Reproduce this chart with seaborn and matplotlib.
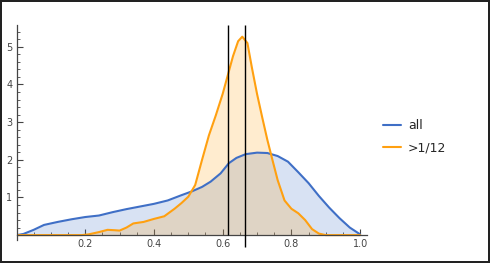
import matplotlib
matplotlib.use("Agg")
import matplotlib.pyplot as plt
import seaborn as sns
import pandas as pd
from matplotlib.ticker import MultipleLocator

sns.set_style("white")
plt.rcParams['font.family'] = ['DejaVu Sans']

# ---- data ----
all_x = [0, 0.02, 0.05, 0.08, 0.12, 0.16, 0.20, 0.24, 0.28, 0.32, 0.36, 0.40,
         0.44, 0.48, 0.51, 0.54, 0.565, 0.594, 0.618, 0.64, 0.667, 0.70, 0.73,
         0.76, 0.79, 0.82, 0.85, 0.88, 0.91, 0.94, 0.97, 1.0]
all_y = [0, 0.03, 0.14, 0.27, 0.35, 0.42, 0.48, 0.52, 0.61, 0.69, 0.76, 0.83,
         0.92, 1.06, 1.16, 1.28, 1.42, 1.64, 1.91, 2.05, 2.15, 2.19, 2.18,
         2.10, 1.95, 1.67, 1.38, 1.04, 0.73, 0.45, 0.20, 0.02]

sel_x = [0, 0.19, 0.21, 0.24, 0.265, 0.285, 0.30, 0.32, 0.34, 0.37, 0.40, 0.43,
         0.46, 0.48, 0.50, 0.52, 0.54, 0.56, 0.58, 0.60, 0.615, 0.63, 0.645,
         0.657, 0.672, 0.685, 0.70, 0.715, 0.73, 0.745, 0.76, 0.78, 0.80, 0.82,
         0.84, 0.86, 0.88, 0.90, 1.0]
sel_y = [0, 0, 0.02, 0.08, 0.14, 0.13, 0.12, 0.20, 0.31, 0.35, 0.43, 0.50,
         0.70, 0.85, 1.02, 1.33, 2.00, 2.65, 3.18, 3.75, 4.25, 4.75, 5.15,
         5.27, 5.10, 4.45, 3.75, 3.13, 2.53, 1.99, 1.46, 0.92, 0.70, 0.58,
         0.40, 0.16, 0.04, 0.0, 0.0]

series_names = ["all", ">1/12"]
vline_x = [0.615, 0.664]
vline_bottom = [0.0, -0.32]

blue = "#3f6fc6"
orange = "#ffa010"

df = pd.concat([
    pd.DataFrame({"x": all_x, "y": all_y, "s": series_names[0]}),
    pd.DataFrame({"x": sel_x, "y": sel_y, "s": series_names[1]}),
])

fig = plt.figure(figsize=(4.9, 2.63), dpi=100)
fig.patch.set_edgecolor("#222222")
fig.patch.set_linewidth(1.5)
ax = fig.add_axes([16.5 / 490, 1 - 240 / 263, (367 - 16.5) / 490, (240 - 25) / 263])

palette = {series_names[0]: blue, series_names[1]: orange}
sns.lineplot(data=df, x="x", y="y", hue="s", palette=palette, ax=ax,
             linewidth=1.5, sort=False, estimator=None)
ax.fill_between(all_x, all_y, 0, color=blue, alpha=0.2, linewidth=0)
ax.fill_between(sel_x, sel_y, 0, color=orange, alpha=0.2, linewidth=0)

for vx, vb in zip(vline_x, vline_bottom):
    ax.vlines(vx, vb, 5.58, color="black", linewidth=1.0, clip_on=False, zorder=5)

ax.set_xlim(0, 1.02)
ax.set_ylim(-0.13, 5.58)

for s in ["top", "right"]:
    ax.spines[s].set_visible(False)
ax.spines["bottom"].set_position(("data", 0))
ax.spines["left"].set_position(("data", 0))
for s in ["bottom", "left"]:
    ax.spines[s].set_color("#444444")
    ax.spines[s].set_linewidth(0.9)

ax.xaxis.set_major_locator(MultipleLocator(0.2))
ax.xaxis.set_minor_locator(MultipleLocator(0.05))
ax.yaxis.set_major_locator(MultipleLocator(1))
ax.yaxis.set_minor_locator(MultipleLocator(0.2))
ax.set_xticks([0.2, 0.4, 0.6, 0.8, 1.0])
ax.set_xticklabels(["0.2", "0.4", "0.6", "0.8", "1.0"])
ax.set_yticks([1, 2, 3, 4, 5])
ax.tick_params(axis="both", which="major", direction="in", length=4, width=0.8,
               color="#444444", labelsize=7, labelcolor="#444444", pad=3)
ax.tick_params(axis="both", which="minor", direction="in", length=2.2, width=0.6,
               color="#444444")
ax.tick_params(axis="x", which="both", bottom=True)
ax.tick_params(axis="y", which="both", left=True)
ax.set_xlabel("")
ax.set_ylabel("")

ax.get_legend().remove()
handles = [plt.Line2D([], [], color=blue, lw=1.5), plt.Line2D([], [], color=orange, lw=1.5)]
fig.legend(handles, series_names, loc="center left", bbox_to_anchor=(383 / 490, 1 - 137 / 263),
           frameon=False, fontsize=9, handlelength=1.45, handletextpad=0.55,
           labelspacing=0.75, borderpad=0, borderaxespad=0)

fig.savefig("out.png", dpi=100)
